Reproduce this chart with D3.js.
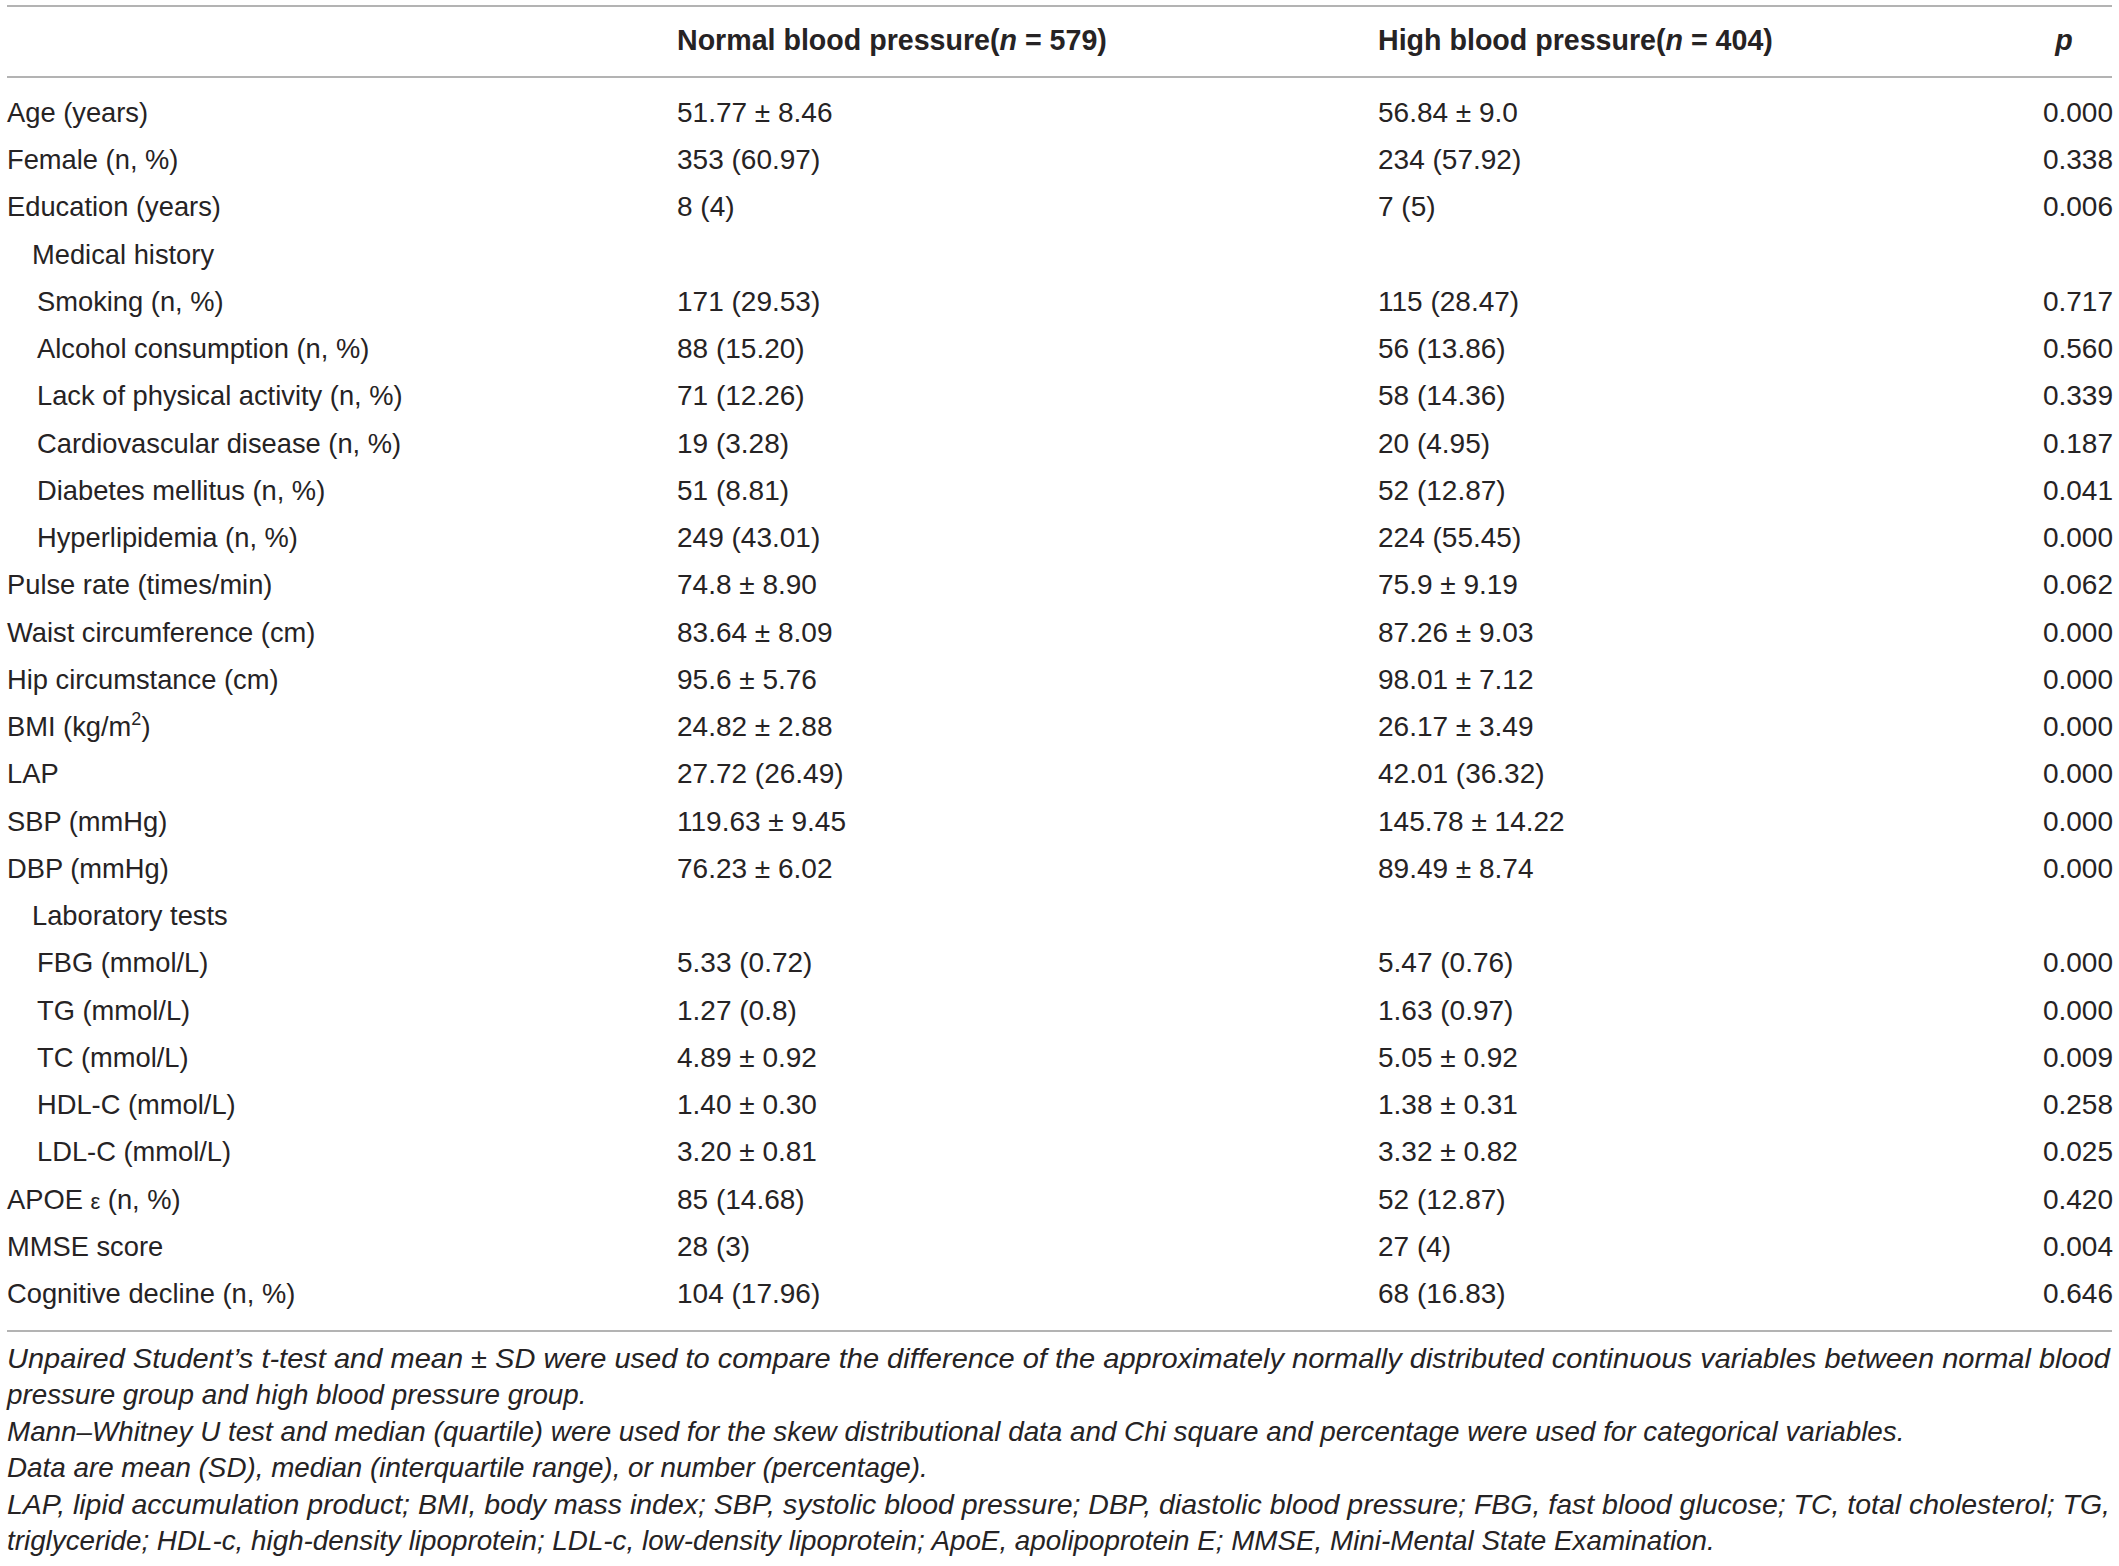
<!DOCTYPE html>
<html>
<head>
<meta charset="utf-8">
<script src="https://cdn.jsdelivr.net/npm/d3@7"></script>
<style>
  html, body { margin: 0; padding: 0; background: #fff; }
  svg { display: block; }
  text { font-family: "Liberation Sans", Arial, sans-serif; fill: #262324; }
</style>
</head>
<body>
<script>
// table content
const labels = [
  "Age (years)", "Female (n, %)", "Education (years)", "Medical history",
  "Smoking (n, %)", "Alcohol consumption (n, %)", "Lack of physical activity (n, %)",
  "Cardiovascular disease (n, %)", "Diabetes mellitus (n, %)", "Hyperlipidemia (n, %)",
  "Pulse rate (times/min)", "Waist circumference (cm)", "Hip circumstance (cm)",
  "BMI (kg/m²)", "LAP", "SBP (mmHg)", "DBP (mmHg)", "Laboratory tests",
  "FBG (mmol/L)", "TG (mmol/L)", "TC (mmol/L)", "HDL-C (mmol/L)", "LDL-C (mmol/L)",
  "APOE ε (n, %)", "MMSE score", "Cognitive decline (n, %)"
]
// 0 = top level, 1 = section heading, 2 = item under a section
const indent = [0, 0, 0, 1, 2, 2, 2, 2, 2, 2, 0, 0, 0, 0, 0, 0, 0, 1, 2, 2, 2, 2, 2, 0, 0, 0]
const normalBP = [
  "51.77 ± 8.46", "353 (60.97)", "8 (4)", "",
  "171 (29.53)", "88 (15.20)", "71 (12.26)", "19 (3.28)", "51 (8.81)", "249 (43.01)",
  "74.8 ± 8.90", "83.64 ± 8.09", "95.6 ± 5.76", "24.82 ± 2.88", "27.72 (26.49)",
  "119.63 ± 9.45", "76.23 ± 6.02", "",
  "5.33 (0.72)", "1.27 (0.8)", "4.89 ± 0.92", "1.40 ± 0.30", "3.20 ± 0.81",
  "85 (14.68)", "28 (3)", "104 (17.96)"
]
const highBP = [
  "56.84 ± 9.0", "234 (57.92)", "7 (5)", "",
  "115 (28.47)", "56 (13.86)", "58 (14.36)", "20 (4.95)", "52 (12.87)", "224 (55.45)",
  "75.9 ± 9.19", "87.26 ± 9.03", "98.01 ± 7.12", "26.17 ± 3.49", "42.01 (36.32)",
  "145.78 ± 14.22", "89.49 ± 8.74", "",
  "5.47 (0.76)", "1.63 (0.97)", "5.05 ± 0.92", "1.38 ± 0.31", "3.32 ± 0.82",
  "52 (12.87)", "27 (4)", "68 (16.83)"
]
const pValues = [
  "0.000", "0.338", "0.006", "",
  "0.717", "0.560", "0.339", "0.187", "0.041", "0.000",
  "0.062", "0.000", "0.000", "0.000", "0.000", "0.000", "0.000", "",
  "0.000", "0.000", "0.009", "0.258", "0.025",
  "0.420", "0.004", "0.646"
]
const headers = [
  [{ t: "Normal blood pressure(" }, { t: "n", i: true }, { t: " = 579)" }],
  [{ t: "High blood pressure(" }, { t: "n", i: true }, { t: " = 404)" }]
]
const footnotes = [
  "Unpaired Student’s t-test and mean ± SD were used to compare the difference of the approximately normally distributed continuous variables between normal blood",
  "pressure group and high blood pressure group.",
  "Mann–Whitney U test and median (quartile) were used for the skew distributional data and Chi square and percentage were used for categorical variables.",
  "Data are mean (SD), median (interquartile range), or number (percentage).",
  "LAP, lipid accumulation product; BMI, body mass index; SBP, systolic blood pressure; DBP, diastolic blood pressure; FBG, fast blood glucose; TC, total cholesterol; TG,",
  "triglyceride; HDL-c, high-density lipoprotein; LDL-c, low-density lipoprotein; ApoE, apolipoprotein E; MMSE, Mini-Mental State Examination."
]
// lines that run on to the next one are justified to the full width
const justified = [true, false, false, false, true, false]

const width = 2119
const height = 1566
const fontSize = 28

const svg = d3.select("body").append("svg")
  .attr("width", width)
  .attr("height", height)

// row baselines
const y = d3.scaleLinear().domain([0, labels.length - 1]).range([122, 1303])
const indentX = d3.scaleOrdinal().domain([0, 1, 2]).range([7, 32, 37])
const colX = { normal: 677, high: 1378, p: 2113 }

// rules
const ruleY = [6, 77, 1331]
svg.selectAll("line.rule")
  .data(ruleY)
  .join("line")
  .attr("class", "rule")
  .attr("x1", 7).attr("x2", 2112)
  .attr("y1", d => d).attr("y2", d => d)
  .attr("stroke", "#b3b3b3")
  .attr("stroke-width", 2)

// header
const head = svg.append("g").attr("font-weight", "bold").attr("font-size", 28.6)
head.selectAll("text.h")
  .data(headers)
  .join("text")
  .attr("class", "h")
  .attr("x", (d, i) => i === 0 ? colX.normal : colX.high)
  .attr("y", 50)
  .selectAll("tspan")
  .data(d => d)
  .join("tspan")
  .attr("font-style", d => d.i ? "italic" : null)
  .text(d => d.t)
head.append("text")
  .attr("x", 2064).attr("y", 50)
  .attr("text-anchor", "middle")
  .attr("font-style", "italic")
  .text("p")

// body rows
const rows = svg.append("g").attr("font-size", fontSize)
  .selectAll("g.row")
  .data(labels.map((l, i) => ({ l, i })))
  .join("g")
  .attr("class", "row")
  .attr("transform", d => `translate(0,${y(d.i)})`)

rows.append("text")
  .attr("x", d => indentX(indent[d.i]))
  .attr("font-size", 27.3)
  .each(function (d) {
    const t = d3.select(this)
    if (d.l.includes("²")) {
      const parts = d.l.split("²")
      t.append("tspan").text(parts[0])
      t.append("tspan").attr("font-size", 18).attr("dy", -11).text("2")
      t.append("tspan").attr("dy", 11).text(parts[1])
    } else if (d.l.includes("ε")) {
      const parts = d.l.split("ε")
      t.append("tspan").text(parts[0])
      t.append("tspan").attr("font-size", 22).text("ε")
      t.append("tspan").text(parts[1])
    } else {
      t.text(d.l)
    }
  })

rows.append("text").attr("x", colX.normal).text(d => normalBP[d.i])
rows.append("text").attr("x", colX.high).text(d => highBP[d.i])
rows.append("text").attr("x", colX.p).attr("text-anchor", "end").text(d => pValues[d.i])

// footnotes
const fy = d3.scaleLinear().domain([0, footnotes.length - 1]).range([1368, 1550])
svg.append("g").attr("font-size", 27.8).attr("font-style", "italic")
  .selectAll("text")
  .data(footnotes)
  .join("text")
  .attr("x", 7)
  .attr("y", (d, i) => fy(i))
  .attr("textLength", (d, i) => justified[i] ? 2103 : null)
  .attr("lengthAdjust", (d, i) => justified[i] ? "spacingAndGlyphs" : null)
  .text(d => d)
</script>
</body>
</html>
